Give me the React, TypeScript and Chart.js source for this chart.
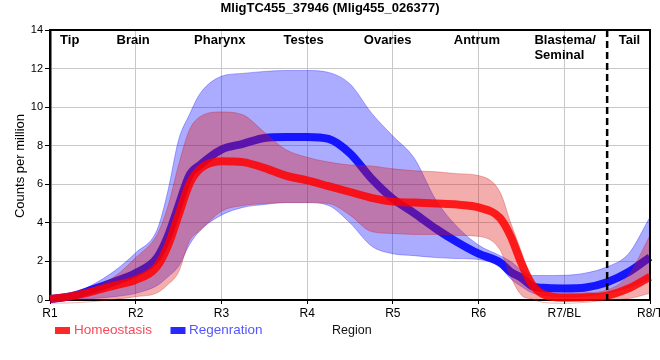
import React, { useEffect, useRef } from "react";
import { Chart, registerables } from "chart.js";

Chart.register(...registerables);

const TITLE = "MligTC455_37946 (Mlig455_026377)";
const Y_TITLE = "Counts per million";
const X_TITLE = "Region";
const xTickLabels = ["R1", "R2", "R3", "R4", "R5", "R6", "R7/BL", "R8/T"];
const regionLabels = [["Tip"], ["Brain"], ["Pharynx"], ["Testes"], ["Ovaries"], ["Antrum"], ["Blastema/", "Seminal"], ["Tail"]];
const regionLabelX = [1.23, 1.97, 2.98, 3.96, 4.94, 5.98, 7.01, 7.76];
const dividerX = 7.5;
const seriesNames = ["Homeostasis", "Regenration"];

const xs = [1, 1.25, 1.5, 1.75, 2, 2.25, 2.375, 2.5, 2.625, 2.75, 3, 3.25, 3.5, 3.75, 4, 4.25, 4.5, 4.75, 5, 5.25, 5.5, 5.75, 6, 6.25, 6.375, 6.5, 6.625, 6.75, 7, 7.25, 7.5, 7.75, 8];

const homeoMean = [0.05, 0.2, 0.45, 0.75, 1.05, 1.75, 2.8, 4.4, 6.0, 6.8, 7.2, 7.15, 6.85, 6.45, 6.2, 5.9, 5.6, 5.3, 5.1, 5.05, 5.0, 4.95, 4.8, 4.25, 3.3, 1.9, 0.8, 0.3, 0.12, 0.14, 0.23, 0.6, 1.2];
const homeoUpper = [0.15, 0.25, 0.65, 1.2, 2.2, 3.4, 4.85, 7.0, 8.8, 9.5, 9.75, 9.6, 8.7, 7.8, 7.4, 7.15, 7.0, 6.95, 6.8, 6.7, 6.65, 6.55, 6.45, 5.6, 4.0, 2.5, 0.95, 0.45, 0.35, 0.38, 0.52, 1.3, 3.35];
const homeoLower = [-0.17, -0.15, -0.08, 0.03, 0.17, 0.37, 0.8, 1.45, 3.05, 3.6, 4.6, 4.9, 5.0, 5.05, 5.05, 5.0, 4.4, 3.55, 3.45, 3.4, 3.4, 3.35, 3.3, 2.6, 1.2, 0.25, 0.05, -0.12, -0.17, -0.12, 0, 0.07, 0.35];

const regenMean = [0.05, 0.2, 0.55, 0.95, 1.4, 2.2, 3.3, 4.9, 6.45, 7.0, 7.8, 8.1, 8.4, 8.45, 8.45, 8.35, 7.6, 6.3, 5.25, 4.5, 3.7, 3.0, 2.4, 1.95, 1.45, 1.15, 0.72, 0.63, 0.6, 0.65, 0.92, 1.45, 2.22];
const regenUpper = [0.05, 0.3, 0.8, 1.5, 2.45, 3.65, 5.65, 8.3, 9.6, 10.7, 11.6, 11.75, 11.85, 11.9, 11.9, 11.8, 11.2, 9.7, 8.5, 7.35, 5.2, 3.8, 2.85, 2.3, 2.0, 1.55, 1.27, 1.27, 1.28, 1.4, 1.72, 2.4, 4.3];
const regenLower = [0, 0.03, 0.08, 0.17, 0.35, 0.75, 1.2, 1.75, 2.85, 3.6, 4.4, 4.8, 4.95, 5.05, 5.05, 4.9, 4.0, 2.8, 2.4, 2.3, 2.2, 2.15, 2.1, 1.7, 1.1, 0.7, 0.37, 0.25, 0.17, 0.2, 0.37, 0.65, 1.1];

const FONT = "'Liberation Sans', Arial, Helvetica, sans-serif";
const RED_LINE = "rgba(255,0,0,0.85)";
const BLUE_LINE = "rgba(0,0,255,0.88)";
const RED_BAND = "rgba(220,20,20,0.35)";
const BLUE_BAND = "rgba(0,0,255,0.33)";

const decor = {
  id: "decor",
  afterDatasetsDraw(chart: any) {
    const { ctx, chartArea: a, scales } = chart;
    const dx = scales.x.getPixelForValue(dividerX);
    ctx.save();
    ctx.strokeStyle = "#000";
    ctx.lineWidth = 2.5;
    ctx.setLineDash([7, 4]);
    ctx.beginPath();
    ctx.moveTo(dx, a.top);
    ctx.lineTo(dx, a.bottom);
    ctx.stroke();
    ctx.restore();
  },
  afterDraw(chart: any) {
    const { ctx, chartArea: a, scales } = chart;
    ctx.save();
    ctx.strokeStyle = "#000";
    ctx.lineWidth = 2;
    ctx.beginPath();
    ctx.moveTo(a.left, a.top);
    ctx.lineTo(a.right, a.top);
    ctx.lineTo(a.right, a.bottom);
    ctx.stroke();

    ctx.fillStyle = "#000";
    ctx.font = `bold 13px ${FONT}`;
    ctx.textAlign = "center";
    ctx.textBaseline = "middle";
    ctx.fillText(TITLE, 330, 8.5);

    ctx.font = `bold 13px ${FONT}`;
    regionLabels.forEach((lines, i) => {
      const cx = scales.x.getPixelForValue(regionLabelX[i]);
      const w0 = ctx.measureText(lines[0]).width;
      ctx.textAlign = "left";
      lines.forEach((t, j) => {
        ctx.fillText(t, cx - w0 / 2, a.top + 10 + j * 15.5);
      });
    });

    ctx.font = `13px ${FONT}`;
    ctx.textAlign = "center";
    ctx.save();
    ctx.translate(20, 166);
    ctx.rotate(-Math.PI / 2);
    ctx.fillText(Y_TITLE, 0, 0);
    ctx.restore();

    ctx.font = `12.5px ${FONT}`;
    ctx.textAlign = "left";
    ctx.fillStyle = "#111";
    ctx.fillText(X_TITLE, 332, 331);

    ctx.font = `13.5px ${FONT}`;
    ctx.fillStyle = "rgb(255,40,40)";
    ctx.fillRect(55, 327, 15, 7);
    ctx.fillStyle = "rgb(255,70,85)";
    ctx.fillText(seriesNames[0], 74, 330.5);
    ctx.fillStyle = "rgb(40,40,255)";
    ctx.fillRect(170.5, 327, 15, 7);
    ctx.fillStyle = "rgb(85,85,255)";
    ctx.fillText(seriesNames[1], 189, 330.5);
    ctx.restore();
  },
};

export default function App() {
  const ref = useRef<HTMLCanvasElement>(null);
  useEffect(() => {
    const canvas = ref.current;
    if (!canvas) return;
    const mk = (arr: number[]) => xs.map((x, i) => ({ x, y: arr[i] }));
    const common = { pointRadius: 0, cubicInterpolationMode: "monotone" as const, clip: false as any };
    const chart = new Chart(canvas, {
      type: "line",
      data: {
        datasets: [
          { label: seriesNames[0], data: mk(homeoMean), borderColor: RED_LINE, borderWidth: 8, fill: false, ...common },
          { label: "hU", data: mk(homeoUpper), borderColor: "rgba(200,20,20,0.3)", borderWidth: 1, backgroundColor: RED_BAND, fill: "+1", ...common },
          { label: "hL", data: mk(homeoLower), borderColor: "rgba(200,20,20,0.3)", borderWidth: 1, fill: false, ...common },
          { label: seriesNames[1], data: mk(regenMean), borderColor: BLUE_LINE, borderWidth: 8, fill: false, ...common },
          { label: "rU", data: mk(regenUpper), borderColor: "rgba(0,0,255,0.3)", borderWidth: 1, backgroundColor: BLUE_BAND, fill: "+1", ...common },
          { label: "rL", data: mk(regenLower), borderColor: "rgba(0,0,255,0.3)", borderWidth: 1, fill: false, ...common },
        ] as any,
      },
      options: {
        animation: false,
        responsive: false,
        layout: { padding: { top: 30, right: 10, left: 0, bottom: 0 } },
        plugins: { legend: { display: false }, title: { display: false }, tooltip: { enabled: false } },
        elements: { point: { radius: 0 } },
        scales: {
          x: {
            type: "linear",
            min: 1,
            max: 8,
            ticks: {
              stepSize: 1,
              autoSkip: false,
              maxRotation: 0,
              padding: 2,
              color: "#000",
              font: { size: 12, family: FONT },
              callback: (v: any) => xTickLabels[Math.round(Number(v)) - 1] ?? "",
            },
            grid: { color: "#c8c8c8", tickColor: "#000", tickLength: 4 },
            border: { color: "#000", width: 2 },
            afterFit: (s: any) => {
              s.height = 60;
              s.paddingLeft = 0;
              s.paddingRight = 0;
            },
          },
          y: {
            min: 0,
            max: 14,
            ticks: { stepSize: 2, padding: 2, color: "#000", font: { size: 11, family: FONT } },
            grid: { color: "#c8c8c8", tickColor: "#000", tickLength: 5 },
            border: { color: "#000", width: 2.5 },
            afterFit: (s: any) => {
              s.width = 50;
            },
          },
        },
      } as any,
      plugins: [decor],
    });
    return () => chart.destroy();
  }, []);
  return (
    <div style={{ position: "absolute", left: 0, top: 0, width: 660, height: 360, background: "#fff" }}>
      <canvas ref={ref} width={660} height={360} style={{ display: "block" }} />
    </div>
  );
}
